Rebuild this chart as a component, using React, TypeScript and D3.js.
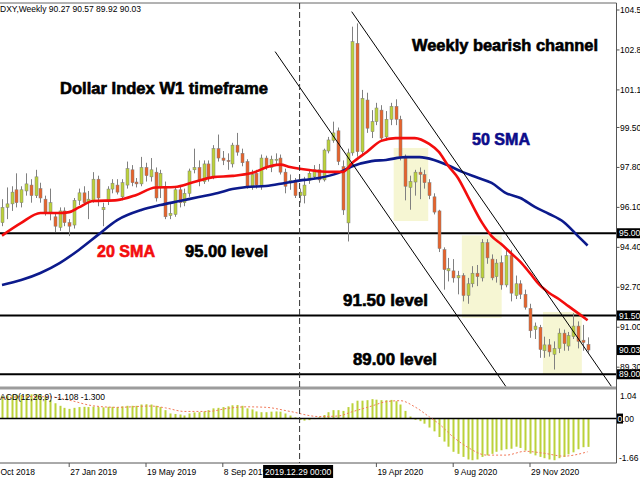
import * as d3 from "d3";

// weekly DXY candles, 21 Oct 2018 .. 21 Feb 2021 (index = week number)
const opens = [
  95.45, 96.1, 96.25, 96.85, 96.3, 96.8, 97.05, 96.6, 96.9, 96.45,
  95.9, 95.7, 95.25, 95.95, 95.45, 95.35, 96.4, 96.72, 96.3, 96.4,
  97.3, 96.0, 96.35, 96.88, 97.05, 96.55, 97.05, 97.7, 97.18, 97.1,
  97.8, 97.4, 97.6, 96.95, 97.0, 95.75, 95.8, 96.85, 96.3, 96.7,
  97.7, 97.8, 97.2, 97.95, 97.4, 98.6, 98.2, 98.1, 97.95, 98.75,
  98.4, 98.05, 97.0, 97.55, 97.0, 98.2, 97.8, 98.15, 98.2, 97.6,
  97.15, 97.2, 96.6, 96.6, 97.25, 97.4, 97.7, 97.27, 98.5, 98.95,
  99.36, 97.83, 95.44, 98.42, 103.08, 98.47, 100.67, 99.32, 99.75, 100.24,
  99.1, 99.85, 100.4, 99.85, 98.2, 96.95, 97.18, 97.6, 97.5, 97.15,
  96.55, 95.95, 94.3, 93.4, 93.4, 93.1, 93.2, 92.35, 92.85, 93.3,
  93.1, 94.6, 93.9, 93.15, 93.75, 92.8, 94.05, 92.35, 92.85, 92.4,
  91.8, 90.9, 91.0, 90.0, 90.25, 89.85, 90.1, 90.75, 90.2, 90.6,
  91.05, 90.45, 90.27,
];
const highs = [
  96.45, 96.95, 97.0, 97.55, 97.0, 97.55, 97.3, 97.7, 97.15, 96.6,
  96.9, 95.9, 96.1, 96.1, 95.6, 96.5, 96.9, 97.0, 96.8, 97.6,
  97.45, 96.3, 97.0, 97.3, 97.3, 97.3, 98.05, 97.9, 97.35, 98.25,
  98.0, 98.2, 97.8, 97.7, 97.2, 96.3, 97.0, 97.0, 96.9, 97.75,
  98.6, 98.1, 98.1, 98.1, 98.75, 99.2, 98.5, 98.4, 98.85, 99.27,
  98.6, 98.15, 97.7, 97.7, 98.35, 98.3, 98.3, 98.4, 98.35, 97.75,
  97.5, 97.35, 96.9, 97.4, 97.7, 97.9, 97.95, 98.6, 99.1, 99.75,
  99.5, 98.1, 98.6, 103.79, 103.93, 101.1, 100.98, 100.24, 100.55, 100.45,
  100.2, 100.55, 100.7, 100.0, 98.35, 97.45, 97.7, 97.8, 97.7, 97.3,
  96.7, 96.0, 94.4, 93.95, 93.9, 93.4, 93.3, 93.1, 93.6, 93.65,
  94.75, 94.75, 94.1, 93.9, 94.05, 94.3, 94.3, 93.2, 93.0, 92.6,
  92.0, 91.2, 91.1, 90.6, 90.5, 90.4, 90.95, 90.9, 90.8, 91.6,
  91.25, 91.1, 90.57,
];
const lows = [
  95.3, 95.6, 95.95, 96.1, 96.1, 96.6, 96.3, 96.5, 96.3, 95.75,
  95.55, 95.05, 95.1, 95.3, 94.88, 95.2, 96.2, 96.2, 95.6, 96.3,
  96.15, 95.3, 96.2, 96.7, 96.65, 96.4, 96.9, 97.0, 96.95, 97.0,
  97.2, 97.2, 96.35, 96.5, 95.6, 95.6, 95.7, 96.1, 96.15, 96.55,
  97.55, 97.0, 97.1, 97.2, 97.3, 98.05, 97.9, 97.7, 97.8, 98.3,
  97.85, 96.9, 96.85, 96.9, 96.85, 97.7, 97.6, 97.9, 97.5, 96.7,
  96.85, 96.5, 96.3, 96.27, 97.1, 97.3, 97.15, 97.2, 98.4, 98.85,
  97.9, 95.78, 94.65, 98.3, 98.26, 98.3, 99.27, 99.05, 99.6, 98.95,
  98.95, 99.6, 99.6, 98.1, 96.4, 96.0, 96.6, 96.45, 96.9, 96.45,
  95.8, 94.2, 92.6, 92.95, 92.9, 92.4, 92.1, 92.0, 92.7, 92.75,
  92.95, 93.7, 93.0, 92.9, 92.6, 92.7, 92.1, 92.2, 92.2, 91.75,
  90.55, 90.5, 89.7, 89.7, 89.75, 89.2, 89.9, 90.0, 90.0, 90.5,
  90.1, 90.0, 89.92,
];
const closes = [
  96.1, 96.25, 96.75, 96.3, 96.85, 97.1, 96.6, 97.4, 96.5, 95.9,
  96.3, 95.3, 95.95, 95.45, 95.3, 96.4, 96.72, 96.3, 96.45, 97.3,
  96.5, 96.1, 96.88, 97.13, 96.75, 97.15, 97.75, 97.15, 97.1, 97.8,
  97.45, 97.7, 96.5, 97.55, 95.7, 95.85, 96.85, 96.3, 96.7, 97.65,
  97.8, 97.25, 97.95, 97.4, 98.6, 98.2, 98.1, 98.05, 98.75, 98.45,
  98.0, 97.0, 97.5, 97.05, 98.2, 97.8, 98.15, 98.15, 97.6, 97.0,
  97.25, 96.6, 96.75, 97.05, 97.55, 97.7, 97.27, 98.54, 98.97, 99.27,
  98.05, 95.99, 98.42, 103.15, 98.47, 100.74, 99.47, 99.75, 100.33, 99.05,
  99.85, 100.4, 99.85, 98.25, 97.0, 97.2, 97.6, 97.5, 97.15, 96.6,
  95.9, 94.35, 93.45, 93.5, 93.1, 93.2, 92.35, 92.85, 93.3, 93.15,
  94.6, 93.95, 93.1, 93.73, 92.8, 94.05, 92.45, 92.85, 92.4, 91.85,
  90.85, 91.05, 90.05, 90.25, 89.95, 90.1, 90.75, 90.3, 90.65, 91.05,
  90.4, 90.35, 90.03,
];

// moving averages at these week indices
const sma20Idx = [0, 4, 8, 12, 14, 16, 19, 24, 28, 32, 36, 40, 44, 48, 52, 56, 58, 60, 64, 68, 71, 73, 76, 79, 82, 86, 89, 91, 93, 95, 97, 100, 102, 104, 106, 108, 110, 112, 114, 116, 118, 120, 122];
const sma20Val = [94.9, 95.44, 95.86, 95.86, 95.9, 96.1, 96.37, 96.41, 96.63, 96.95, 96.97, 97.18, 97.39, 97.44, 97.56, 97.86, 97.92, 97.82, 97.69, 97.61, 97.61, 98.0, 98.46, 98.93, 99.05, 99.05, 98.8, 98.46, 97.86, 97.35, 96.59, 95.45, 94.88, 94.54, 94.16, 93.78, 93.3, 92.8, 92.46, 92.2, 91.9, 91.6, 91.3];
const sma50Idx = [0, 4, 8, 12, 16, 20, 24, 29, 33, 37, 41, 45, 48, 51, 55, 59, 63, 66, 70, 73, 77, 80, 84, 87, 90, 93, 96, 99, 102, 105, 108, 111, 114, 117, 120, 122];
const sma50Val = [92.8, 93.01, 93.31, 93.73, 94.29, 94.93, 95.56, 95.99, 96.2, 96.37, 96.54, 96.71, 96.88, 96.97, 97.01, 97.14, 97.27, 97.35, 97.56, 97.85, 98.07, 98.12, 98.24, 98.24, 98.12, 97.88, 97.6, 97.37, 97.14, 96.71, 96.5, 96.12, 95.82, 95.48, 94.88, 94.48];

// MACD(12,26,9) histogram per week and signal line samples
const macdHist = [
  0.88, 0.9, 0.92, 0.93, 0.92, 0.95, 0.95, 0.95, 0.92, 0.85,
  0.72, 0.6, 0.5, 0.42, 0.38, 0.42, 0.45, 0.46, 0.45, 0.47,
  0.45, 0.44, 0.46, 0.46, 0.45, 0.48, 0.5, 0.5, 0.5, 0.55,
  0.56, 0.55, 0.5, 0.45, 0.33, 0.2, 0.18, 0.16, 0.12, 0.2,
  0.24, 0.25, 0.28, 0.33, 0.4, 0.42, 0.45, 0.48, 0.52, 0.53,
  0.5, 0.4, 0.36, 0.28, 0.25, 0.25, 0.27, 0.28, 0.27, 0.2,
  0.12, 0.05, -0.05, -0.08, -0.06, -0.02, 0.05, 0.14, 0.25, 0.33,
  0.33, 0.3, 0.45, 0.6, 0.7, 0.7, 0.72, 0.76, 0.74, 0.72,
  0.72, 0.73, 0.68, 0.55, 0.3, 0.08, -0.05, -0.1, -0.2, -0.35,
  -0.5, -0.72, -0.9, -1.1, -1.3, -1.38, -1.5, -1.6, -1.63, -1.6,
  -1.5, -1.44, -1.38, -1.3, -1.24, -1.2, -1.18, -1.1, -1.15, -1.25,
  -1.37, -1.44, -1.5, -1.55, -1.6, -1.63, -1.55, -1.5, -1.4, -1.32,
  -1.2, -1.12, -1.108,
];
const signalIdx = [0, 5, 10, 14, 19, 24, 31, 34, 38, 43, 47, 51, 55, 60, 66, 70, 73, 77, 80, 83, 86, 89, 91, 94, 97, 101, 105, 109, 113, 117, 122];
const signalVal = [0.8, 0.86, 0.85, 0.72, 0.5, 0.44, 0.49, 0.42, 0.28, 0.28, 0.4, 0.46, 0.44, 0.28, 0.08, 0.1, 0.27, 0.49, 0.66, 0.7, 0.46, 0.07, -0.2, -0.72, -1.12, -1.43, -1.43, -1.28, -1.36, -1.47, -1.3];

const priceTicks = [104.5, 102.8, 101.1, 99.5, 97.8, 96.1, 94.4, 92.7, 91.0, 89.3];
const levels = [95.0, 91.5, 89.0];
const lastPrice = 90.03;

const xLabelIdx = [-2, 14, 30, 46, 78, 94, 110];
const xLabels = ["7 Oct 2018", "27 Jan 2019", "19 May 2019", "8 Sep 2019", "19 Apr 2020", "9 Aug 2020", "29 Nov 2020"];
const cursorIdx = 62;
const cursorLabel = "2019.12.29 00:00";

// highlighted consolidation zones (week index range, price range)
const zoneStart = [81.6, 95.8, 112.7];
const zoneEnd = [88.8, 104.1, 120.8];
const zoneTop = [98.63, 94.91, 91.65];
const zoneBottom = [95.52, 91.4, 88.97];

// bearish channel lines
const chanStartIdx = [72.85, 56.9];
const chanStartPrice = [104.43, 102.73];
const chanEndIdx = [127.0, 105.1];
const chanEndPrice = [88.47, 88.44];

const BULL = "#bcd23a";
const BEAR = "#e8632b";
const FONT = "'Liberation Sans', Arial, sans-serif";

export default function App() {
  const width = 640;
  const height = 480;
  const plotRight = 616.5;

  const x = d3.scaleLinear().domain([0, 122]).range([2, 587.6]);
  const y = d3.scaleLinear().domain([89.0, 104.5]).range([374.25, 10]);
  const ym = d3.scaleLinear().domain([-1.66, 1.04]).range([461, 392]);

  const sma20Line = d3
    .line<number>()
    .x((_, k) => x(sma20Idx[k]))
    .y((v) => y(v))
    .curve(d3.curveMonotoneX);
  const sma50Line = d3
    .line<number>()
    .x((_, k) => x(sma50Idx[k]))
    .y((v) => y(v))
    .curve(d3.curveMonotoneX);
  const signalLine = d3
    .line<number>()
    .x((_, k) => x(signalIdx[k]))
    .y((v) => ym(v))
    .curve(d3.curveMonotoneX);

  // heavy label text, thickened a bit with its own stroke
  const bigText = (fill: string) => ({
    fontFamily: FONT,
    fontWeight: 700,
    fontSize: 16,
    fill,
    stroke: fill,
    strokeWidth: 0.6,
    lengthAdjust: "spacingAndGlyphs",
  });

  return (
    <svg
      width={width}
      height={height}
      style={{ position: "fixed", left: 0, top: 0, background: "#fff" }}
    >
      <defs>
        <clipPath id="main-clip">
          <rect x={0} y={3} width={plotRight} height={383.5} />
        </clipPath>
      </defs>
      <rect x={0} y={0} width={width} height={height} fill="#fff" />

      {/* highlight zones */}
      <g clipPath="url(#main-clip)">
        {zoneStart.map((s, k) => (
          <rect
            key={k}
            x={x(s)}
            y={y(zoneTop[k])}
            width={x(zoneEnd[k]) - x(s)}
            height={y(zoneBottom[k]) - y(zoneTop[k])}
            fill="#f6f6d3"
          />
        ))}
      </g>

      {/* level lines */}
      {levels.map((lv) => (
        <line
          key={lv}
          x1={0}
          x2={plotRight}
          y1={y(lv)}
          y2={y(lv)}
          stroke="#000"
          strokeWidth={2}
        />
      ))}

      {/* candles */}
      <g clipPath="url(#main-clip)">
        {opens.map((o, i) => {
          const c = closes[i];
          const cx = Math.round(x(i)) + 0.5;
          const top = y(Math.max(o, c));
          const bot = y(Math.min(o, c));
          return (
            <g key={i}>
              <line x1={cx} x2={cx} y1={y(highs[i])} y2={y(lows[i])} stroke="#808080" strokeWidth={1} />
              <rect
                x={cx - 1.5}
                y={top}
                width={3}
                height={Math.max(1, bot - top)}
                fill={c >= o ? BULL : BEAR}
                stroke="#7d7d7d"
                strokeWidth={0.5}
              />
            </g>
          );
        })}
      </g>

      {/* moving averages */}
      <path d={sma50Line(sma50Val) ?? ""} fill="none" stroke="#0c1a8c" strokeWidth={2.6} />
      <path d={sma20Line(sma20Val) ?? ""} fill="none" stroke="#f30d0d" strokeWidth={2.6} />

      {/* channel */}
      <g clipPath="url(#main-clip)">
        {chanStartIdx.map((s, k) => (
          <line
            key={k}
            x1={x(s)}
            y1={y(chanStartPrice[k])}
            x2={x(chanEndIdx[k])}
            y2={y(chanEndPrice[k])}
            stroke="#000"
            strokeWidth={1}
          />
        ))}
      </g>

      {/* annotations */}
      <text x={60} y={94} {...bigText("#000")} textLength={208}>Dollar Index W1 timeframe</text>
      <text x={412} y={51} {...bigText("#000")} textLength={186}>Weekly bearish channel</text>
      <text x={472} y={145} {...bigText("#0c0c8a")} textLength={58}>50 SMA</text>
      <text x={97} y={257} {...bigText("#f30d0d")} textLength={58}>20 SMA</text>
      <text x={185} y={257} {...bigText("#000")} textLength={83}>95.00 level</text>
      <text x={343} y={306} {...bigText("#000")} textLength={85}>91.50 level</text>
      <text x={353} y={365} {...bigText("#000")} textLength={84}>89.00 level</text>

      <text x={0} y={11.5} fontFamily={FONT} fontSize={8.5} fill="#000">
        DXY,Weekly  90.27 90.57 89.92 90.03
      </text>

      {/* panel frames */}
      <line x1={0} x2={plotRight} y1={3} y2={3} stroke="#666" strokeWidth={1} />
      <rect x={0} y={386.5} width={plotRight} height={3} fill="#9c9c9c" />
      <line x1={0} x2={plotRight} y1={463} y2={463} stroke="#555" strokeWidth={1} />
      <line x1={plotRight} x2={plotRight} y1={3} y2={463} stroke="#555" strokeWidth={1} />

      {/* MACD panel */}
      {macdHist.map((v, i) => (
        <rect
          key={i}
          x={Math.round(x(i)) - 0.5}
          y={Math.min(ym(v), ym(0))}
          width={2}
          height={Math.abs(ym(v) - ym(0))}
          fill={BULL}
        />
      ))}
      <line x1={0} x2={plotRight} y1={ym(0)} y2={ym(0)} stroke="#000" strokeWidth={1.5} />
      <path d={signalLine(signalVal) ?? ""} fill="none" stroke="#f27a5a" strokeWidth={1} strokeDasharray="2 2" />
      <text x={-7} y={399.5} fontFamily={FONT} fontSize={8.5} fill="#000">
        MACD(12,26,9) -1.108 -1.300
      </text>

      {/* cursor */}
      <line
        x1={x(cursorIdx)}
        x2={x(cursorIdx)}
        y1={3}
        y2={463}
        stroke="#333"
        strokeWidth={1}
        strokeDasharray="6 3"
      />

      {/* price axis */}
      {priceTicks.map((p) => (
        <g key={p}>
          <line x1={plotRight} x2={plotRight + 3} y1={y(p)} y2={y(p)} stroke="#555" />
          <text x={620} y={y(p) + 3} fontFamily={FONT} fontSize={8.5} fill="#000">
            {p.toFixed(2)}
          </text>
        </g>
      ))}
      {[...levels, lastPrice].map((p) => (
        <g key={`b${p}`}>
          <rect x={617} y={y(p) - 5} width={30} height={10} fill="#000" />
          <text x={619} y={y(p) + 3} fontFamily={FONT} fontSize={8.5} fill="#fff">
            {p.toFixed(2)}
          </text>
        </g>
      ))}

      {/* MACD axis */}
      <text x={620} y={ym(1.04) + 7} fontFamily={FONT} fontSize={8.5}>1.04</text>
      <rect x={617} y={ym(0) - 5} width={6} height={10} fill="#000" />
      <text x={617.5} y={ym(0) + 3} fontFamily={FONT} fontSize={8.5}>
        <tspan fill="#fff">0</tspan>
        <tspan fill="#000">.00</tspan>
      </text>
      <text x={619} y={ym(-1.66)} fontFamily={FONT} fontSize={8.5}>-1.66</text>

      {/* time axis */}
      {xLabelIdx.map((idx, k) => (
        <g key={idx}>
          <line x1={x(idx)} x2={x(idx)} y1={463} y2={467} stroke="#555" />
          <text x={x(idx) + 1} y={475} fontFamily={FONT} fontSize={8.5} fill="#000">
            {xLabels[k]}
          </text>
        </g>
      ))}
      <rect x={x(cursorIdx) - 36.5} y={465} width={70} height={13} fill="#000" />
      <text x={x(cursorIdx) - 34.5} y={475} fontFamily={FONT} fontSize={8.5} fill="#fff">
        {cursorLabel}
      </text>
    </svg>
  );
}
